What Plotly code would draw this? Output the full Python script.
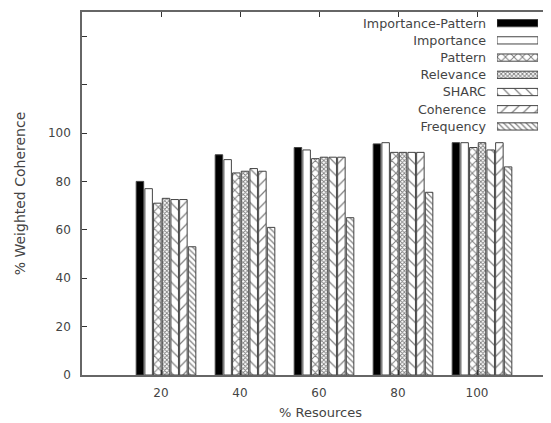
import plotly.graph_objects as go

resources = [20, 40, 60, 80, 100]
series_names = ["Importance-Pattern", "Importance", "Pattern", "Relevance",
                "SHARC", "Coherence", "Frequency"]
importance_pattern = [80, 91, 94, 95.5, 96]
importance = [77, 89, 93, 96, 96]
pattern = [71, 83.5, 89.4, 92, 94]
relevance = [73, 84.2, 90, 92, 96]
sharc = [72.5, 85.3, 90, 92, 93]
coherence = [72.5, 84.2, 90, 92, 96]
frequency = [53, 61, 65, 75.5, 86]
y_ticks = [0, 20, 40, 60, 80, 100, 120, 140]
y_ticklabels = ["0", "20", "40", "60", "80", "100", "", ""]

values = [importance_pattern, importance, pattern, relevance, sharc, coherence, frequency]

styles = [
    dict(color="black", pattern=None),
    dict(color="white", pattern=None),
    dict(color="white", pattern=dict(shape="x", size=6, solidity=0.3, fgcolor="black", bgcolor="white")),
    dict(color="white", pattern=dict(shape="x", size=3, solidity=0.5, fgcolor="black", bgcolor="white")),
    dict(color="white", pattern=dict(shape="\\", size=8, solidity=0.15, fgcolor="black", bgcolor="white")),
    dict(color="white", pattern=dict(shape="/", size=8, solidity=0.15, fgcolor="black", bgcolor="white")),
    dict(color="white", pattern=dict(shape="\\", size=4, solidity=0.3, fgcolor="black", bgcolor="white")),
]

pitch = 2.2
bw = 1.9
shift = 1.27
line = dict(color="#444444", width=1)

fig = go.Figure()
for i, (name, vals, st) in enumerate(zip(series_names, values, styles)):
    marker = dict(color=st["color"], line=line)
    if st["pattern"]:
        marker["pattern"] = st["pattern"]
    fig.add_trace(go.Bar(
        x=resources, y=vals, name=name, width=bw,
        offset=shift + (i - 3) * pitch - bw / 2,
        marker=marker, showlegend=False,
    ))
    # legend key sample on auxiliary axes
    fig.add_trace(go.Bar(
        x=[1], y=[name], orientation="h", width=0.42,
        marker=marker, showlegend=False, hoverinfo="skip",
        xaxis="x2", yaxis="y2",
    ))

fam = "DejaVu Sans, Liberation Sans, sans-serif"
col = "#444444"
font = dict(family=fam, size=12, color=col)
xtitle_font = dict(family=fam, size=13, color=col)
ytitle_font = dict(family=fam, size=14, color=col)
legend_font = dict(family=fam, size=12.7, color=col)

fig.update_layout(
    width=551, height=423,
    margin=dict(l=74, r=0, t=4, b=56),
    paper_bgcolor="white", plot_bgcolor="white",
    barmode="overlay",
    font=font,
    xaxis=dict(
        range=[0, 120.76], tickvals=resources, ticktext=[str(r) for r in resources],
        ticks="inside", ticklen=5, tickcolor="#333", mirror="ticks",
        ticklabelstandoff=6, automargin=False,
        showline=True, linecolor="#666", linewidth=1.5, showgrid=False, zeroline=False,
        title=dict(text="% Resources", standoff=9, font=xtitle_font),
    ),
    yaxis=dict(
        range=[0, 150], tickvals=y_ticks, ticktext=y_ticklabels,
        ticks="inside", ticklen=5, tickcolor="#333", mirror="ticks",
        ticklabelstandoff=7, automargin=False,
        showline=True, linecolor="#666", linewidth=1.5, showgrid=False, zeroline=False,
        title=dict(text="% Weighted Coherence", standoff=19, font=ytitle_font),
    ),
    xaxis2=dict(domain=[0.870, 0.956], range=[0, 1], visible=False, anchor="y2", fixedrange=True),
    yaxis2=dict(domain=[0.661, 0.993], range=[6.5, -0.5], anchor="x2", type="category",
                showline=False, showgrid=False, zeroline=False, ticks="",
                ticklabelstandoff=10, tickfont=legend_font, fixedrange=True, automargin=False),
)

fig.write_html("out.html")
